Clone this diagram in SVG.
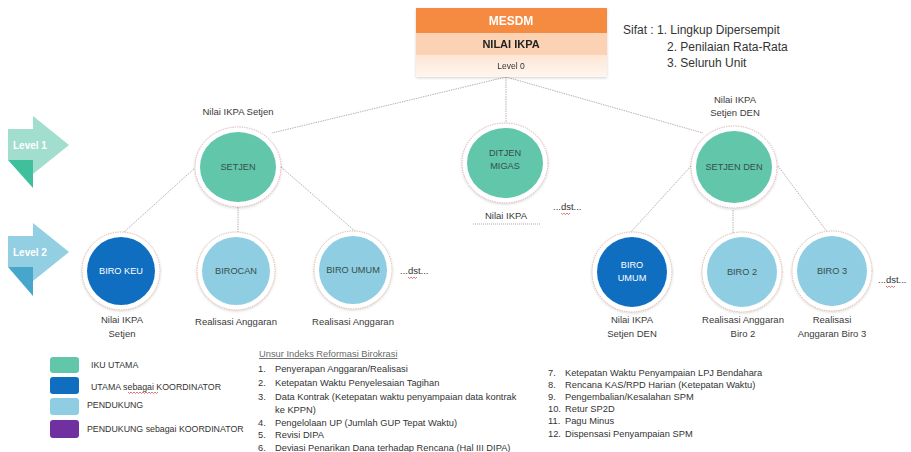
<svg xmlns="http://www.w3.org/2000/svg" width="911" height="452" viewBox="0 0 911 452">
  <defs>
    <style>
      text { font-family: "Liberation Sans", Arial, sans-serif; }
      .lbl { font-size: 9.5px; fill: #3a3a3a; text-anchor: middle; }
      .ct { font-size: 9.2px; fill: #35504a; text-anchor: middle; }
      .ctw { font-size: 9.2px; fill: #ffffff; text-anchor: middle; }
      .ring { fill: #ffffff; stroke: #d49aa4; stroke-width: 0.8; stroke-dasharray: 1.2 1.2; filter: url(#soft); }
      .ring2 { fill: #ffffff; stroke: #d6a58e; stroke-width: 0.8; stroke-dasharray: 1.2 1.2; filter: url(#soft); }
      .teal { fill: #62c6ab; }
      .navy { fill: #0f6ebf; }
      .sky { fill: #8fcde2; }
      .purple { fill: #7030a0; }
      .conn line { stroke: #a8979f; stroke-width: 0.8; stroke-dasharray: 1.4 1; fill: none; }
      .lvl { font-size: 10px; font-weight: bold; fill: #ffffff; }
      .sifat { font-size: 12px; fill: #333333; }
      .leg { font-size: 8.8px; fill: #333333; }
      .li { font-size: 9.3px; fill: #333333; }
      .dst { font-size: 9.5px; fill: #333333; }
      .wavy { fill: none; stroke: #d04040; stroke-width: 0.7; }
    </style>
    <filter id="soft" x="-20%" y="-20%" width="140%" height="140%">
      <feGaussianBlur in="SourceAlpha" stdDeviation="1.5"/>
      <feOffset dx="0" dy="1" result="b"/>
      <feComponentTransfer><feFuncA type="linear" slope="0.18"/></feComponentTransfer>
      <feMerge><feMergeNode/><feMergeNode in="SourceGraphic"/></feMerge>
    </filter>
    <linearGradient id="fade" x1="0" y1="0" x2="0" y2="1">
      <stop offset="0" stop-color="#fde6d4"/>
      <stop offset="1" stop-color="#fff6f0"/>
    </linearGradient>
  </defs>

  <rect width="911" height="452" fill="#ffffff"/>

  <!-- connectors -->
  <g id="connectors" class="conn">
    <line x1="506" y1="77" x2="272" y2="133"/>
    <line x1="506" y1="77" x2="506" y2="122"/>
    <line x1="506" y1="77" x2="703" y2="133"/>
    <line x1="196" y1="167" x2="124" y2="232"/>
    <line x1="238" y1="207" x2="238" y2="232"/>
    <line x1="281" y1="167" x2="356" y2="232"/>
    <line x1="691" y1="166" x2="630" y2="233"/>
    <line x1="733" y1="210" x2="733" y2="233"/>
    <line x1="778" y1="166" x2="828" y2="233"/>
  </g>

  <!-- level markers -->
  <g id="level1">
    <polygon points="8,129 33,129 33,116 69,145 33,174 33,160 8,160" fill="#a2decd"/>
    <polygon points="8,160 33,160 33,188" fill="#3fbf9b"/>
    <text x="13" y="149" class="lvl">Level 1</text>
  </g>
  <g id="level2">
    <polygon points="8,236 33,236 33,223 69,252 33,281 33,267 8,267" fill="#93cfe2"/>
    <polygon points="8,267 33,267 33,296" fill="#48a6cc"/>
    <text x="13" y="256" class="lvl">Level 2</text>
  </g>

  <!-- root -->
  <g id="mesdm" filter="url(#soft)">
    <rect x="416" y="8" width="191" height="25" fill="#f58b3f"/>
    <rect x="416" y="33" width="191" height="22" fill="#fbd3b4"/>
    <rect x="416" y="55" width="191" height="22" fill="url(#fade)"/>
    <text x="511" y="25" text-anchor="middle" font-size="12" font-weight="bold" fill="#ffffff">MESDM</text>
    <text x="511" y="48" text-anchor="middle" font-size="11" font-weight="bold" fill="#222222">NILAI IKPA</text>
    <text x="511" y="69" text-anchor="middle" font-size="8.5" fill="#333333">Level 0</text>
  </g>

  <g id="sifat">
    <text x="623" y="34" class="sifat">Sifat : 1. Lingkup Dipersempit</text>
    <text x="667" y="51" class="sifat">2. Penilaian Rata-Rata</text>
    <text x="667" y="67" class="sifat">3. Seluruh Unit</text>
  </g>

  <!-- level 1 -->
  <g id="setjen">
    <text x="238" y="115" class="lbl">Nilai IKPA Setjen</text>
    <ellipse cx="238" cy="167" rx="43" ry="40" class="ring"/>
    <ellipse cx="238" cy="167" rx="38" ry="35" class="teal"/>
    <text x="238" y="170" class="ct">SETJEN</text>
  </g>
  <g id="ditjen-migas">
    <ellipse cx="505" cy="163" rx="43" ry="40" class="ring"/>
    <ellipse cx="505" cy="163" rx="38" ry="35" class="teal"/>
    <text x="505" y="156" class="ct">DITJEN</text>
    <text x="505" y="169" class="ct">MIGAS</text>
    <text x="506" y="219" class="lbl">Nilai IKPA</text>
    <line x1="473" y1="224" x2="540" y2="224" stroke="#b08890" stroke-width="0.8" stroke-dasharray="1 1"/>
  </g>
  <g id="dst-1">
    <text x="553" y="210" class="dst">...dst...</text>
    <path d="M561,213 l1.5,1.5 l1.5,-1.5 l1.5,1.5 l1.5,-1.5 l1.5,1.5 l1.5,-1.5" class="wavy"/>
  </g>
  <g id="setjen-den">
    <text x="735" y="103" class="lbl">Nilai IKPA</text>
    <text x="735" y="116" class="lbl">Setjen DEN</text>
    <ellipse cx="734" cy="167" rx="43" ry="41" class="ring"/>
    <ellipse cx="734" cy="167" rx="38" ry="36" class="teal"/>
    <text x="734" y="170" class="ct">SETJEN DEN</text>
  </g>

  <!-- level 2 -->
  <g id="biro-keu">
    <circle cx="121" cy="271" r="39" class="ring2"/>
    <circle cx="121" cy="271" r="34" class="navy"/>
    <text x="121" y="274" class="ctw">BIRO KEU</text>
    <text x="122" y="323" class="lbl">Nilai IKPA</text>
    <text x="122" y="337" class="lbl">Setjen</text>
  </g>
  <g id="birocan">
    <circle cx="236" cy="271" r="39" class="ring2"/>
    <circle cx="236" cy="271" r="34" class="sky"/>
    <text x="236" y="274" class="ct">BIROCAN</text>
    <text x="236" y="325" class="lbl">Realisasi Anggaran</text>
  </g>
  <g id="biro-umum-setjen">
    <circle cx="353" cy="270" r="39" class="ring2"/>
    <circle cx="353" cy="270" r="34" class="sky"/>
    <text x="353" y="273" class="ct">BIRO UMUM</text>
    <text x="353" y="325" class="lbl">Realisasi Anggaran</text>
  </g>
  <g id="dst-2">
    <text x="400" y="274" class="dst">...dst...</text>
    <path d="M408,277 l1.5,1.5 l1.5,-1.5 l1.5,1.5 l1.5,-1.5 l1.5,1.5 l1.5,-1.5" class="wavy"/>
  </g>
  <g id="biro-umum-den">
    <circle cx="632" cy="272" r="40" class="ring2"/>
    <circle cx="632" cy="272" r="35" class="navy"/>
    <text x="632" y="268" class="ctw">BIRO</text>
    <text x="632" y="281" class="ctw">UMUM</text>
    <text x="632" y="323" class="lbl">Nilai IKPA</text>
    <text x="632" y="337" class="lbl">Setjen DEN</text>
  </g>
  <g id="biro-2">
    <circle cx="742" cy="272" r="40" class="ring2"/>
    <circle cx="742" cy="272" r="35" class="sky"/>
    <text x="742" y="275" class="ct">BIRO 2</text>
    <text x="743" y="323" class="lbl">Realisasi Anggaran</text>
    <text x="743" y="337" class="lbl">Biro 2</text>
  </g>
  <g id="biro-3">
    <circle cx="832" cy="271" r="40" class="ring2"/>
    <circle cx="832" cy="271" r="35" class="sky"/>
    <text x="832" y="274" class="ct">BIRO 3</text>
    <text x="832" y="323" class="lbl">Realisasi</text>
    <text x="832" y="337" class="lbl">Anggaran Biro 3</text>
  </g>
  <g id="dst-3">
    <text x="878" y="283" class="dst">...dst...</text>
    <path d="M886,286 l1.5,1.5 l1.5,-1.5 l1.5,1.5 l1.5,-1.5 l1.5,1.5 l1.5,-1.5" class="wavy"/>
  </g>

  <!-- legend -->
  <g id="legend">
    <rect x="50" y="357" width="29" height="16" rx="3" class="teal"/>
    <rect x="50" y="377" width="29" height="17" rx="3" class="navy"/>
    <rect x="50" y="398" width="29" height="17" rx="3" class="sky"/>
    <rect x="50" y="420" width="29" height="18" rx="3" class="purple"/>
    <text x="91" y="368" class="leg">IKU UTAMA</text>
    <text x="91" y="390" class="leg">UTAMA sebagai KOORDINATOR</text>
    <path d="M128,392 l1.5,1.5 l1.5,-1.5 l1.5,1.5 l1.5,-1.5 l1.5,1.5 l1.5,-1.5 l1.5,1.5 l1.5,-1.5 l1.5,1.5 l1.5,-1.5 l1.5,1.5 l1.5,-1.5 l1.5,1.5 l1.5,-1.5 l1.5,1.5 l1.5,-1.5 l1.5,1.5 l1.5,-1.5 l1.5,1.5 l1.5,-1.5" class="wavy"/>
    <text x="87" y="408" class="leg">PENDUKUNG</text>
    <text x="87" y="432" class="leg">PENDUKUNG sebagai KOORDINATOR</text>
  </g>

  <!-- reform index items -->
  <g id="unsur-list">
    <text x="259" y="357" class="li" style="fill:#6a6a6a" text-decoration="underline">Unsur Indeks Reformasi Birokrasi</text>
    <text x="258" y="372" class="li">1.</text><text x="275" y="372" class="li">Penyerapan Anggaran/Realisasi</text>
    <text x="258" y="386" class="li">2.</text><text x="275" y="386" class="li">Ketepatan Waktu Penyelesaian Tagihan</text>
    <text x="258" y="400" class="li">3.</text><text x="275" y="400" class="li">Data Kontrak (Ketepatan waktu penyampaian data kontrak</text>
    <text x="275" y="413" class="li">ke KPPN)</text>
    <text x="258" y="426" class="li">4.</text><text x="275" y="426" class="li">Pengelolaan UP (Jumlah GUP Tepat Waktu)</text>
    <text x="258" y="438" class="li">5.</text><text x="275" y="438" class="li">Revisi DIPA</text>
    <text x="258" y="451" class="li">6.</text><text x="275" y="451" class="li">Deviasi Penarikan Dana  terhadap Rencana (Hal III DIPA)</text>
  </g>
  <g id="unsur-list-2">
    <text x="548" y="376" class="li">7.</text><text x="565" y="376" class="li">Ketepatan Waktu Penyampaian LPJ Bendahara</text>
    <text x="548" y="388" class="li">8.</text><text x="565" y="388" class="li">Rencana KAS/RPD Harian (Ketepatan Waktu)</text>
    <text x="548" y="400" class="li">9.</text><text x="565" y="400" class="li">Pengembalian/Kesalahan SPM</text>
    <text x="548" y="412" class="li">10.</text><text x="565" y="412" class="li">Retur SP2D</text>
    <text x="548" y="424" class="li">11.</text><text x="565" y="424" class="li">Pagu Minus</text>
    <text x="548" y="437" class="li">12.</text><text x="565" y="437" class="li">Dispensasi Penyampaian SPM</text>
  </g>
</svg>
